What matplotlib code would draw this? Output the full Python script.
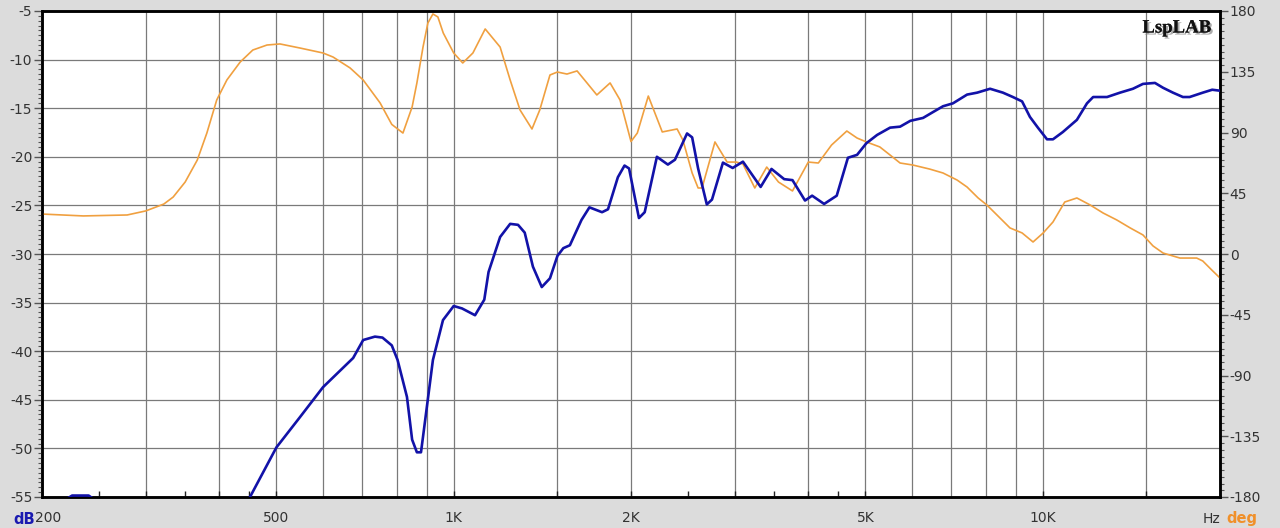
import matplotlib
matplotlib.use("Agg")
from matplotlib import pyplot as plt
from matplotlib.ticker import FixedLocator, NullFormatter
import matplotlib.transforms as mtrans
import matplotlib.patheffects as pe
import numpy as np

plt.rcParams['axes.unicode_minus'] = False

# Magnitude curve (Hz, dB)
magFreq = [200, 215, 225, 240, 250, 265, 430, 451, 500, 548, 600, 675, 702, 735, 757,
           785, 803, 833, 850, 866, 880, 887, 922, 959, 1000, 1033, 1087, 1127, 1146,
           1199, 1247, 1286, 1320, 1363, 1411, 1457, 1500, 1535, 1575, 1648, 1700, 1786,
           1828, 1900, 1950, 1985, 2063, 2110, 2213, 2310, 2375, 2490, 2540, 2600, 2690,
           2745, 2865, 2976, 3098, 3320, 3464, 3640, 3760, 3949, 4060, 4255, 4470, 4670,
           4840, 5020, 5235, 5507, 5726, 5960, 6265, 6512, 6773, 7040, 7441, 7740, 8141,
           8560, 8900, 9226, 9514, 9814, 10170, 10410, 10820, 11430, 11890, 12180, 12860,
           13530, 14230, 14800, 15510, 16010, 16640, 17300, 17760, 18700, 19400, 20000]
magDb = [-58, -55.6, -54.85, -54.85, -55.6, -60, -60, -55, -49.9, -46.8, -43.7, -40.7,
         -38.85, -38.5, -38.6, -39.4, -40.9, -44.7, -49.1, -50.4, -50.4, -48.8, -40.9,
         -36.8, -35.35, -35.6, -36.3, -34.7, -31.85, -28.25, -26.9, -27.0, -27.8, -31.3,
         -33.4, -32.5, -30.2, -29.4, -29.1, -26.5, -25.2, -25.7, -25.4, -22.1, -20.9,
         -21.2, -26.3, -25.7, -20.0, -20.8, -20.3, -17.6, -18.0, -21.2, -24.9, -24.4,
         -20.6, -21.15, -20.5, -23.1, -21.25, -22.3, -22.4, -24.5, -24.0, -24.85, -24.0,
         -20.1, -19.8, -18.6, -17.75, -17.0, -16.9, -16.3, -16.0, -15.4, -14.8, -14.5,
         -13.6, -13.4, -13.0, -13.4, -13.85, -14.3, -15.9, -17.0, -18.2, -18.2, -17.45,
         -16.2, -14.5, -13.85, -13.85, -13.4, -13.0, -12.5, -12.4, -12.9, -13.4, -13.85,
         -13.85, -13.4, -13.1, -13.2]

# Phase curve (Hz, deg)
phFreq = [200, 235, 279, 300, 322, 334, 350, 367, 381, 396, 412, 434, 456, 482, 507, 548,
          600, 624, 667, 702, 750, 785, 820, 850, 866, 887, 904, 922, 940, 960, 1000, 1036,
          1078, 1131, 1199, 1247, 1296, 1358, 1400, 1457, 1500, 1557, 1620, 1684, 1750,
          1843, 1916, 2000, 2050, 2140, 2260, 2395, 2450, 2540, 2600, 2640, 2777, 2912,
          3020, 3098, 3245, 3400, 3560, 3760, 4000, 4160, 4380, 4650, 4840, 5020, 5290,
          5507, 5726, 6020, 6430, 6773, 7155, 7441, 7770, 8040, 8363, 8800, 9226, 9630,
          10020, 10410, 10900, 11430, 12040, 12660, 13360, 14080, 14800, 15390, 16010,
          17100, 18260, 18700, 19360, 20000]
phDeg = [29.6, 28.2, 28.9, 31.9, 37.0, 42.2, 53.3, 69.6, 89.6, 114.1, 128.9, 142.2, 151.1,
         154.8, 155.6, 152.6, 148.9, 145.9, 137.8, 128.9, 111.9, 96.0, 89.6, 108.9, 126.7,
         153.3, 171.1, 177.8, 175.6, 163.7, 148.9, 141.5, 148.9, 166.7, 153.3, 128.9,
         106.7, 92.6, 106.7, 132.6, 134.8, 133.3, 135.6, 126.7, 117.8, 126.7, 114.1, 83.3,
         89.6, 117.0, 90.4, 92.6, 84.4, 60.0, 48.9, 48.9, 83.0, 68.1, 68.1, 66.7, 48.9,
         64.4, 53.3, 46.7, 68.1, 67.4, 80.7, 91.1, 85.9, 83.0, 79.3, 73.3, 67.4, 65.9, 62.9,
         60.0, 54.8, 49.6, 41.5, 36.3, 28.9, 19.3, 15.6, 8.9, 15.6, 23.7, 38.5, 41.5, 36.3,
         30.4, 25.2, 19.3, 14.1, 6.0, 0.7, -3.0, -3.0, -5.2, -11.8, -17.8]

xLabelPos = [200, 500, 1000, 2000, 5000, 10000]
xLabels = ["200", "500", "1K", "2K", "5K", "10K"]
xMinor = [250, 300, 350, 400, 450, 1500, 2500, 3000, 3500, 4000, 4500, 15000]
xGrid = [300, 400, 500, 600, 700, 800, 900, 1000, 1500, 2000, 3000, 4000, 5000,
         6000, 7000, 8000, 9000, 10000, 15000]

bg = "#dcdcdc"
blue = "#1212a8"
orange = "#f0a040"
txt = "#333333"
gridc = "#7a7a7a"

fig = plt.figure(figsize=(12.8, 5.28), dpi=100, facecolor=bg)
ax = fig.add_axes([42 / 1280, 31 / 528, 1178 / 1280, 486 / 528])
ax.set_xscale("log")
ax.set_xlim(200, 20000)
ax.set_ylim(-55, -5)

ax.xaxis.set_major_locator(FixedLocator(xLabelPos))
ax.xaxis.set_major_formatter(plt.FixedFormatter(xLabels))
ax.xaxis.set_minor_locator(FixedLocator(xMinor))
ax.xaxis.set_minor_formatter(NullFormatter())
ax.tick_params(axis="x", which="both", direction="in", length=4, width=1, color="#222222",
               labelsize=10, labelcolor=txt, pad=10)

ax.set_yticks(np.arange(-55, -4, 5))
ax.set_yticklabels([str(v) for v in range(-55, -4, 5)])
ax.set_yticks(np.arange(-55, -5, 0.5), minor=True)
ax.tick_params(axis="y", which="major", direction="out", length=6, width=1, color="#555555",
               labelsize=10, labelcolor=txt, pad=1)
ax.tick_params(axis="y", which="minor", direction="out", length=3, width=0.8, color="#555555")

ax2 = ax.twinx()
ax2.set_ylim(-180, 180)
ax2.set_yticks(np.arange(-180, 181, 45))
ax2.set_yticks(np.arange(-180, 180, 5), minor=True)
ax2.tick_params(axis="y", which="major", direction="out", length=6, width=1, color="#555555",
                labelsize=10, labelcolor=txt, pad=1)
ax2.tick_params(axis="y", which="minor", direction="out", length=3, width=0.8, color="#555555")

# grid lives on the lower (phase) axes so both curves sit above it
ax.set_zorder(ax2.get_zorder() + 1)
ax.patch.set_visible(False)
ax2.patch.set_facecolor("white")
ax2.patch.set_visible(True)
for g in xGrid:
    ax2.axvline(g, color=gridc, lw=0.9, zorder=1)
hTrans = mtrans.blended_transform_factory(ax2.transAxes, ax.transData)
for h in np.arange(-50, -5, 5):
    ax2.plot([0, 1], [h, h], color=gridc, lw=0.9, zorder=1, transform=hTrans)

ax2.plot(phFreq, phDeg, color=orange, lw=1.2, zorder=3)
ax.plot(magFreq, magDb, color=blue, lw=1.9, zorder=4)

for a in (ax, ax2):
    for s in a.spines.values():
        s.set_color("black")
        s.set_linewidth(1.8)

# the first frequency label sits a bit right of its tick, clear of "dB"
firstLab = ax.xaxis.get_majorticklabels()[0]
firstLab.set_transform(firstLab.get_transform() +
                       mtrans.ScaledTranslation(6 / 100, 0, fig.dpi_scale_trans))

fig.text(13 / 1280, 9 / 528, "dB", color="#1a1ab0", fontsize=10.5, fontweight="bold",
         ha="left", va="center")
fig.text(1212 / 1280, 9 / 528, "Hz", color=txt, fontsize=10, ha="center", va="center")
fig.text(1242 / 1280, 9 / 528, "deg", color="#f0902a", fontsize=10.5, fontweight="bold",
         ha="center", va="center")

lab = ax.text(0.9925, 0.965, "LspLAB", transform=ax.transAxes, ha="right", va="center",
              fontsize=13.5, fontweight="bold", family="Liberation Serif", color="#111111",
              zorder=6)
lab.set_path_effects([pe.withSimplePatchShadow(offset=(1.5, -1.5), shadow_rgbFace="#888888",
                                               alpha=0.7), pe.Normal()])

fig.savefig("out.png", dpi=100, facecolor=bg)
